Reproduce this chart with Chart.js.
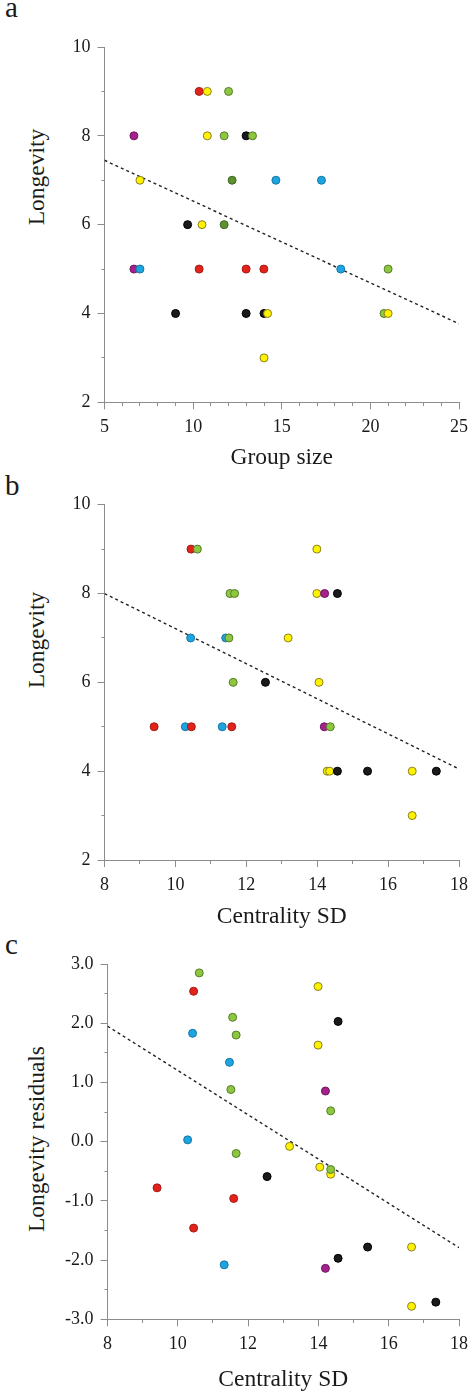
<!DOCTYPE html>
<html>
<head>
<meta charset="utf-8">
<script src="https://cdn.jsdelivr.net/npm/chart.js@4.4.1/dist/chart.umd.min.js"></script>
<style>
  body { margin: 0; background: #fff; width: 475px; height: 1396px; position: relative; overflow: hidden;
         font-family: "Liberation Serif", "Times New Roman", serif; color: #1a1a1a; }
  canvas { position: absolute; left: 0; }
  .panel { position: absolute; left: 5px; font-size: 29px; line-height: 29px; }
  .ytitle { position: absolute; font-size: 23.5px; line-height: 23.5px; white-space: nowrap;
            transform: translate(-50%, -50%) rotate(-90deg); }
</style>
</head>
<body>
<div class="panel" style="top:-7px">a</div>
<div class="panel" style="top:471px">b</div>
<div class="panel" style="top:930px">c</div>
<div class="ytitle" style="left:37px; top:177px">Longevity</div>
<div class="ytitle" style="left:37px; top:640px">Longevity</div>
<div class="ytitle" style="left:37px; top:1139px">Longevity residuals</div>
<canvas id="chartA" width="475" height="480" style="top:0"></canvas>
<canvas id="chartB" width="475" height="480" style="top:460px"></canvas>
<canvas id="chartC" width="475" height="476" style="top:920px"></canvas>
<script>
// groups: 1 red, 2 yellow, 3 light green, 4 dark green, 5 blue, 6 magenta, 7 black
// points listed left to right so later ones sit on top, as in the figure

// a: longevity vs group size
const groupSizeA = [6.66, 6.66, 7.0, 7.0, 9.01, 9.69, 10.34, 10.34, 10.5, 10.8, 10.8, 11.75, 11.75, 12.0, 12.2,
  12.99, 12.99, 12.99, 13.35, 13.99, 14.0, 14.0, 14.2, 14.67, 17.24, 18.33, 20.77, 21.0, 21.0];
const longevityA = [8, 5, 7, 5, 4, 6, 9, 5, 6, 9, 8, 8, 6, 9, 7,
  8, 5, 4, 8, 5, 4, 3, 4, 7, 7, 5, 4, 5, 4];
const groupA = [6, 6, 2, 5, 7, 7, 1, 1, 2, 2, 2, 3, 4, 3, 4,
  7, 1, 7, 3, 1, 7, 2, 2, 5, 5, 5, 3, 3, 2];
const trendAX = [5, 25];
const trendAY = [7.45, 3.77];

// b: longevity vs centrality SD
const centralityB = [9.40, 10.28, 10.43, 10.44, 10.45, 10.62, 11.32, 11.42, 11.51, 11.54, 11.59, 11.63, 11.67, 12.54,
  13.18, 13.99, 13.99, 14.05, 14.2, 14.21, 14.28, 14.35, 14.37, 14.57, 14.57, 15.42, 16.68, 16.68, 17.36];
const longevityB = [5, 5, 7, 9, 5, 9, 5, 7, 7, 8, 5, 6, 8, 6,
  7, 9, 8, 6, 5, 8, 4, 4, 5, 8, 4, 4, 4, 3, 4];
const groupB = [1, 5, 5, 1, 1, 3, 5, 5, 3, 3, 1, 3, 3, 7,
  2, 2, 2, 2, 6, 6, 2, 2, 3, 7, 7, 7, 2, 2, 7];
const trendBX = [8, 18];
const trendBY = [8.0, 4.05];

// c: longevity residuals vs centrality SD
const centralityC = [9.41, 10.28, 10.42, 10.45, 10.45, 10.61, 11.32, 11.47, 11.51, 11.56, 11.59, 11.66, 11.66, 12.54,
  13.18, 13.99, 13.99, 14.04, 14.2, 14.2, 14.35, 14.35, 14.35, 14.56, 14.56, 15.40, 16.65, 16.65, 17.34];
const residualsC = [-0.78, 0.03, 1.83, 2.54, -1.46, 2.85, -2.08, 1.34, 0.88, 2.10, -0.96, 1.80, -0.20, -0.59,
  -0.08, 2.62, 1.63, -0.43, 0.855, -2.14, 0.52, -0.55, -0.47, 2.03, -1.97, -1.78, -1.78, -2.78, -2.71];
const groupC = [1, 5, 5, 1, 1, 3, 5, 5, 3, 3, 1, 3, 3, 7,
  2, 2, 2, 2, 6, 6, 3, 2, 3, 7, 7, 7, 2, 2, 7];
const trendCX = [8, 18];
const trendCY = [1.95, -1.79];

const palette = { 1: '#e3231b', 2: '#fff200', 3: '#8dc63f', 4: '#5c9130', 5: '#1ea4de', 6: '#a5228e', 7: '#1a1a1a' };
const outline = { 1: '#a51a14', 2: '#8a8020', 3: '#557d2a', 4: '#3d6620', 5: '#1677a6', 6: '#6f1660', 7: '#000' };

const SERIF = "'Liberation Serif', 'Times New Roman', serif";
const AXIS_GREY = '#8c8c8c';

function scatterPanel(canvasId, p) {
  const points = p.xs.map((x, i) => ({ x, y: p.ys[i] }));
  const trend = p.lineX.map((x, i) => ({ x, y: p.lineY[i] }));
  const box = p.box;
  const axis = (min, max, step, isMajor, fmt, minorDash, fit) => ({
    type: 'linear',
    min, max,
    afterFit: fit,
    border: { display: true, color: AXIS_GREY, width: 1 },
    grid: {
      drawOnChartArea: false,
      drawTicks: true,
      tickLength: 7,
      tickWidth: 1,
      tickColor: AXIS_GREY,
      tickBorderDash: (c) => (c.tick && !isMajor(c.tick.value)) ? minorDash : [],
    },
    ticks: {
      stepSize: step,
      autoSkip: false,
      maxRotation: 0,
      minRotation: 0,
      padding: 7,
      color: '#1a1a1a',
      font: { family: SERIF, size: 18 },
      callback: (v) => isMajor(v) ? fmt(v) : '',
    },
  });

  const xScale = axis(p.xMin, p.xMax, 1, p.xMajor, (v) => String(v), [3, 40],
    (s) => { s.height = box.bottom; });
  xScale.title = {
    display: true,
    text: p.xTitle,
    color: '#1a1a1a',
    font: { family: SERIF, size: 23.5 },
    padding: { top: 0, bottom: p.titlePad },
  };
  const yScale = axis(p.yMin, p.yMax, p.yStep, p.yMajor, p.yFmt, [0, 4, 3, 40],
    (s) => { s.width = box.left; });

  return new Chart(document.getElementById(canvasId), {
    type: 'scatter',
    data: {
      datasets: [
        {
          data: points,
          order: 0,
          pointRadius: 4,
          pointHoverRadius: 4,
          pointBorderWidth: 1,
          pointBackgroundColor: (c) => palette[p.groups[c.dataIndex]],
          pointBorderColor: (c) => outline[p.groups[c.dataIndex]],
        },
        {
          data: trend,
          order: 1,
          showLine: true,
          pointRadius: 0,
          borderColor: '#222',
          borderWidth: 1.4,
          borderDash: [3, 3],
        },
      ],
    },
    options: {
      responsive: false,
      animation: false,
      events: [],
      layout: { padding: { left: 0, top: box.top, right: box.right, bottom: 0 } },
      plugins: { legend: { display: false }, tooltip: { enabled: false } },
      scales: { x: xScale, y: yScale },
    },
  });
}

function drawAll() {
  scatterPanel('chartA', {
    xs: groupSizeA, ys: longevityA, groups: groupA, lineX: trendAX, lineY: trendAY,
    xMin: 5, xMax: 25, xMajor: (v) => v % 5 === 0,
    yMin: 2, yMax: 10, yStep: 1, yMajor: (v) => v % 2 === 0, yFmt: (v) => String(v),
    xTitle: 'Group size', titlePad: 8.3,
    box: { left: 104.5, top: 47, right: 15.7, bottom: 77.7 },
  });

  scatterPanel('chartB', {
    xs: centralityB, ys: longevityB, groups: groupB, lineX: trendBX, lineY: trendBY,
    xMin: 8, xMax: 18, xMajor: (v) => v % 2 === 0,
    yMin: 2, yMax: 10, yStep: 1, yMajor: (v) => v % 2 === 0, yFmt: (v) => String(v),
    xTitle: 'Centrality SD', titlePad: 8.8,
    box: { left: 104.5, top: 44.7, right: 15.7, bottom: 80 },
  });

  scatterPanel('chartC', {
    xs: centralityC, ys: residualsC, groups: groupC, lineX: trendCX, lineY: trendCY,
    xMin: 8, xMax: 18, xMajor: (v) => v % 2 === 0,
    yMin: -3, yMax: 3, yStep: 0.5, yMajor: (v) => Number.isInteger(v), yFmt: (v) => v.toFixed(1),
    xTitle: 'Centrality SD', titlePad: 2.5,
    box: { left: 107.5, top: 44, right: 12.3, bottom: 76.7 },
  });
}

// make sure the serif face is ready before the canvases measure text
Promise.all([
  document.fonts.load("18px 'Liberation Serif'"),
  document.fonts.load("23.5px 'Liberation Serif'"),
]).catch(() => {}).then(drawAll);
</script>
</body>
</html>
